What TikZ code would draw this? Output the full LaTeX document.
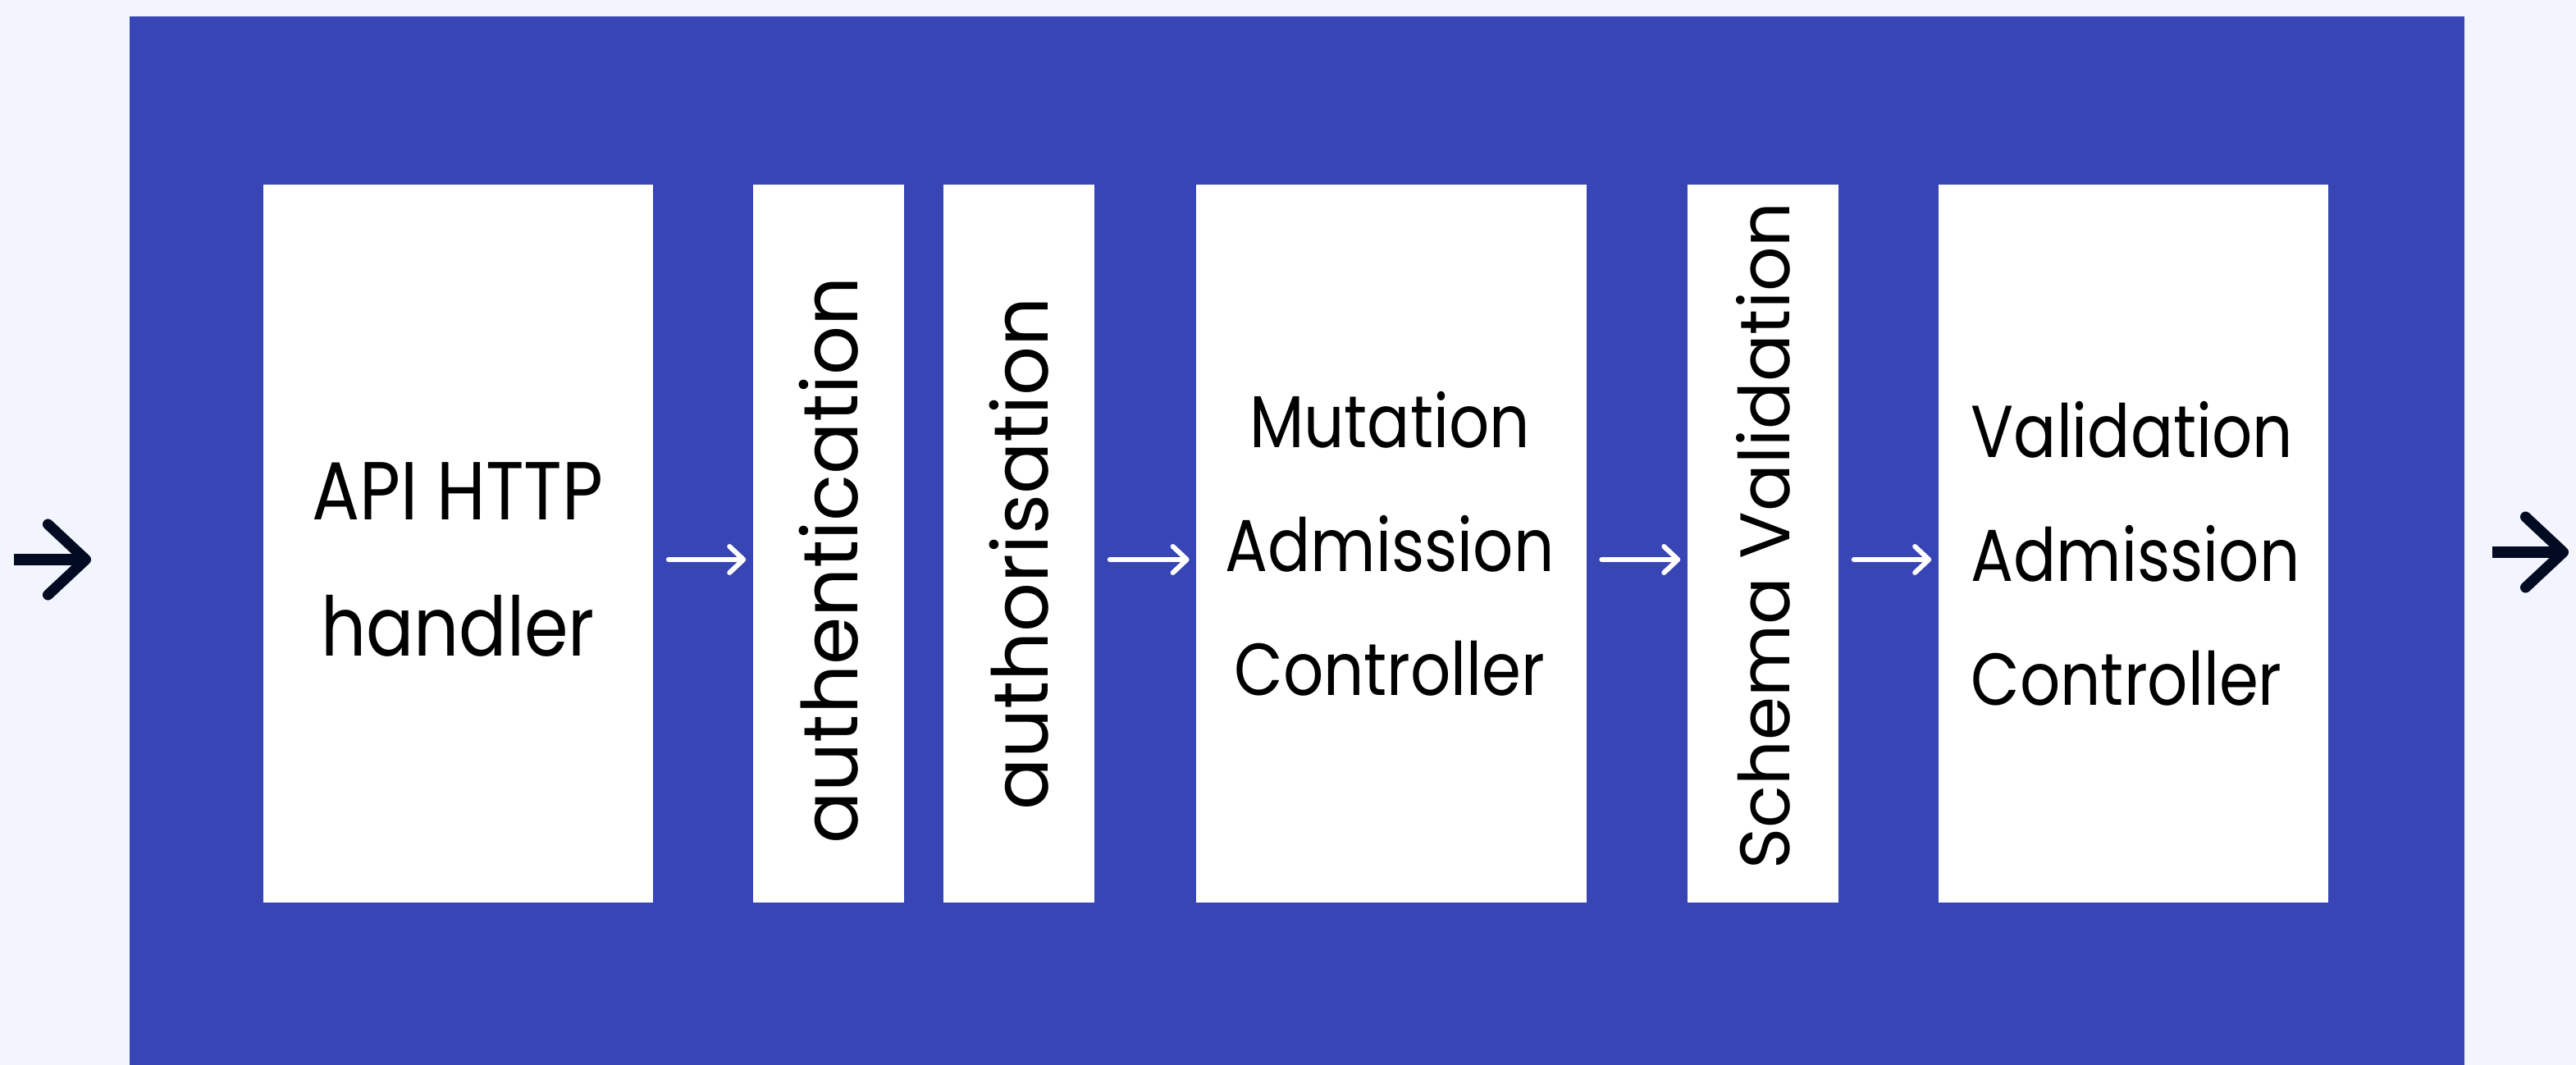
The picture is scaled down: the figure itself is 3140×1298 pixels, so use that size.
\documentclass[tikz,border=0pt]{standalone}
\usepackage{fontspec}
\setmainfont{Poppins}
\newfontfamily\narrowpop[FakeStretch=0.86]{Poppins}
\usetikzlibrary{arrows.meta}
\definecolor{pagebg}{HTML}{F2F5FE}
\definecolor{frameblue}{HTML}{3745B5}
\definecolor{inkdark}{HTML}{020B22}
\tikzset{
  stage/.style = {fill=white, inner sep=0pt, minimum height=8.75cm},
  widestage/.style = {stage, minimum width=4.75cm},
  slimstage/.style = {stage, minimum width=1.84cm},
  lbl/.style   = {font=\narrowpop\fontsize{25.5}{43}\selectfont, align=center, inner sep=0pt},
  uplbl/.style = {font=\fontsize{26.7}{30}\selectfont, rotate=90, inner sep=0pt},
  pass/.style  = {-{Straight Barb[length=1.7mm,width=3.2mm,round]}, white,
                  line width=1.7pt, line cap=round, shorten <=1.8mm, shorten >=0.8mm},
  flow/.style  = {-{Straight Barb[length=4.6mm,width=8.6mm,round]}, inkdark,
                  line width=3.7pt},
}

\begin{document}
\begin{tikzpicture}[x=0.01cm,y=-0.01cm]
  \useasboundingbox[fill=pagebg] (0,0) rectangle (3140,1298);
  \fill[frameblue] (158,20) rectangle (3004,1298);
  % the stages of a request
  \node[widestage] (api)      at (558.5,662.5) {};
  \node[slimstage] (authn)    at (1010,662.5) {};
  \node[slimstage] (authz)    at (1242,662.5) {};
  \node[widestage] (mutate)   at (1696,662.5) {};
  \node[slimstage] (schema)   at (2149,662.5) {};
  \node[widestage] (validate) at (2600.5,662.5) {};
  \node[lbl,font=\narrowpop\fontsize{28.5}{47}\selectfont] at (558,682) {API HTTP\\handler};
  \node[uplbl] at (1010,683) {authentication};
  \node[uplbl] at (1242,675) {authorisation};
  \node[lbl] at (1694,663) {Mutation\\Admission\\Controller};
  \node[uplbl,font=\fontsize{24.3}{30}\selectfont] at (2149,653) {Schema Validation};
  \node[lbl,align=left,anchor=west] at (2402,675) {Validation\\Admission\\Controller};
  \foreach \a/\b in {api/authn,authz/mutate,mutate/schema,schema/validate}
    \draw[pass] ([yshift=-0.195cm]\a.east) -- ([yshift=-0.195cm]\b.west);
  % in and out
  \coordinate (entry)    at (17,682);
  \coordinate (entrytip) at (111,682);
  \coordinate (exit)     at (3038,673);
  \coordinate (exittip)  at (3131,673);
  \draw[flow] (entry) -- (entrytip);
  \draw[flow] (exit) -- (exittip);
\end{tikzpicture}
\end{document}
